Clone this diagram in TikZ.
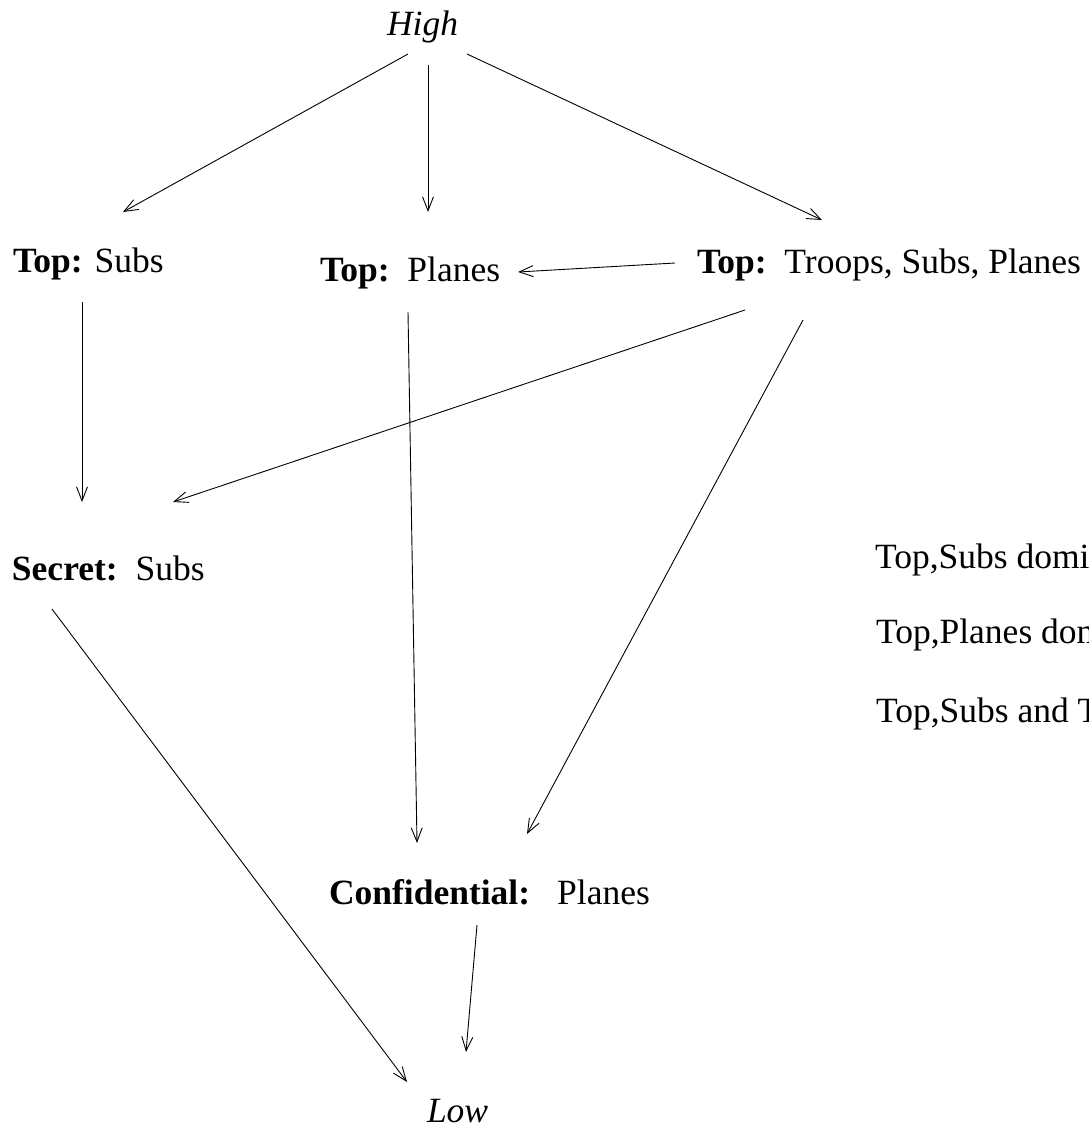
\documentclass[tikz,border=0pt]{standalone}
\usepackage{fontspec}
\setmainfont{Liberation Serif}
\usetikzlibrary{arrows.meta,calc}
\tikzset{
  lbl/.style={inner sep=0pt, outer sep=0pt, anchor=base west, font=\fontsize{35.5}{42}\selectfont},
  arr/.style={line width=0.9pt, -{Straight Barb[length=14pt,width=11pt,line width=0.9pt]}}
}
\begin{document}
\begin{tikzpicture}[x=1pt,y=-1pt]
\useasboundingbox (0,0) rectangle (1089,1130);
\node[lbl] (high) at (387,35) {\textit{High}};
\node[lbl] (tsubs) at (13,272) {\textbf{Top:} Subs};
\node[lbl] (tplanes) at (320,281) {\textbf{Top:}\ \ Planes};
\node[lbl] (ttroops) at (697,273) {\textbf{Top:}\ \ Troops, Subs, Planes};
\node[lbl] (secret) at (12,580) {\textbf{Secret:}\ \ Subs};
\node[lbl] (conf) at (329,904) {\textbf{Confidential:}\hspace{0.76em}Planes};
\node[lbl] (low) at (427,1122) {\textit{Low}};
\node[lbl] (n1) at (875,568) {Top,Subs domi};
\node[lbl] (n2) at (876,643) {Top,Planes dom};
\node[lbl] (n3) at (876,722) {Top,Subs and T};
\draw[arr] ($(high.base west)+(21,19)$) -- ($(tsubs.base west)+(110,-60)$);
\draw[arr] ($(high.base west)+(41,30)$) -- ($(tplanes.base west)+(108,-69)$);
\draw[arr] ($(high.base west)+(80,19)$) -- ($(ttroops.base west)+(125,-53)$);
\draw[arr] ($(ttroops.base west)+(-22,-10)$) -- ($(tplanes.base west)+(198,-9)$);
\draw[arr] ($(tsubs.base west)+(69,30)$) -- ($(secret.base west)+(70,-78)$);
\draw[arr] ($(ttroops.base west)+(48,37)$) -- ($(secret.base west)+(161,-78)$);
\draw[arr] ($(tplanes.base west)+(88,31)$) -- ($(conf.base west)+(88,-61)$);
\draw[arr] ($(ttroops.base west)+(106,47)$) -- ($(conf.base west)+(198,-70)$);
\draw[arr] ($(secret.base west)+(40,29)$) -- ($(low.base west)+(-20,-40)$);
\draw[arr] ($(conf.base west)+(148,21)$) -- ($(low.base west)+(39,-70)$);
\end{tikzpicture}
\end{document}
